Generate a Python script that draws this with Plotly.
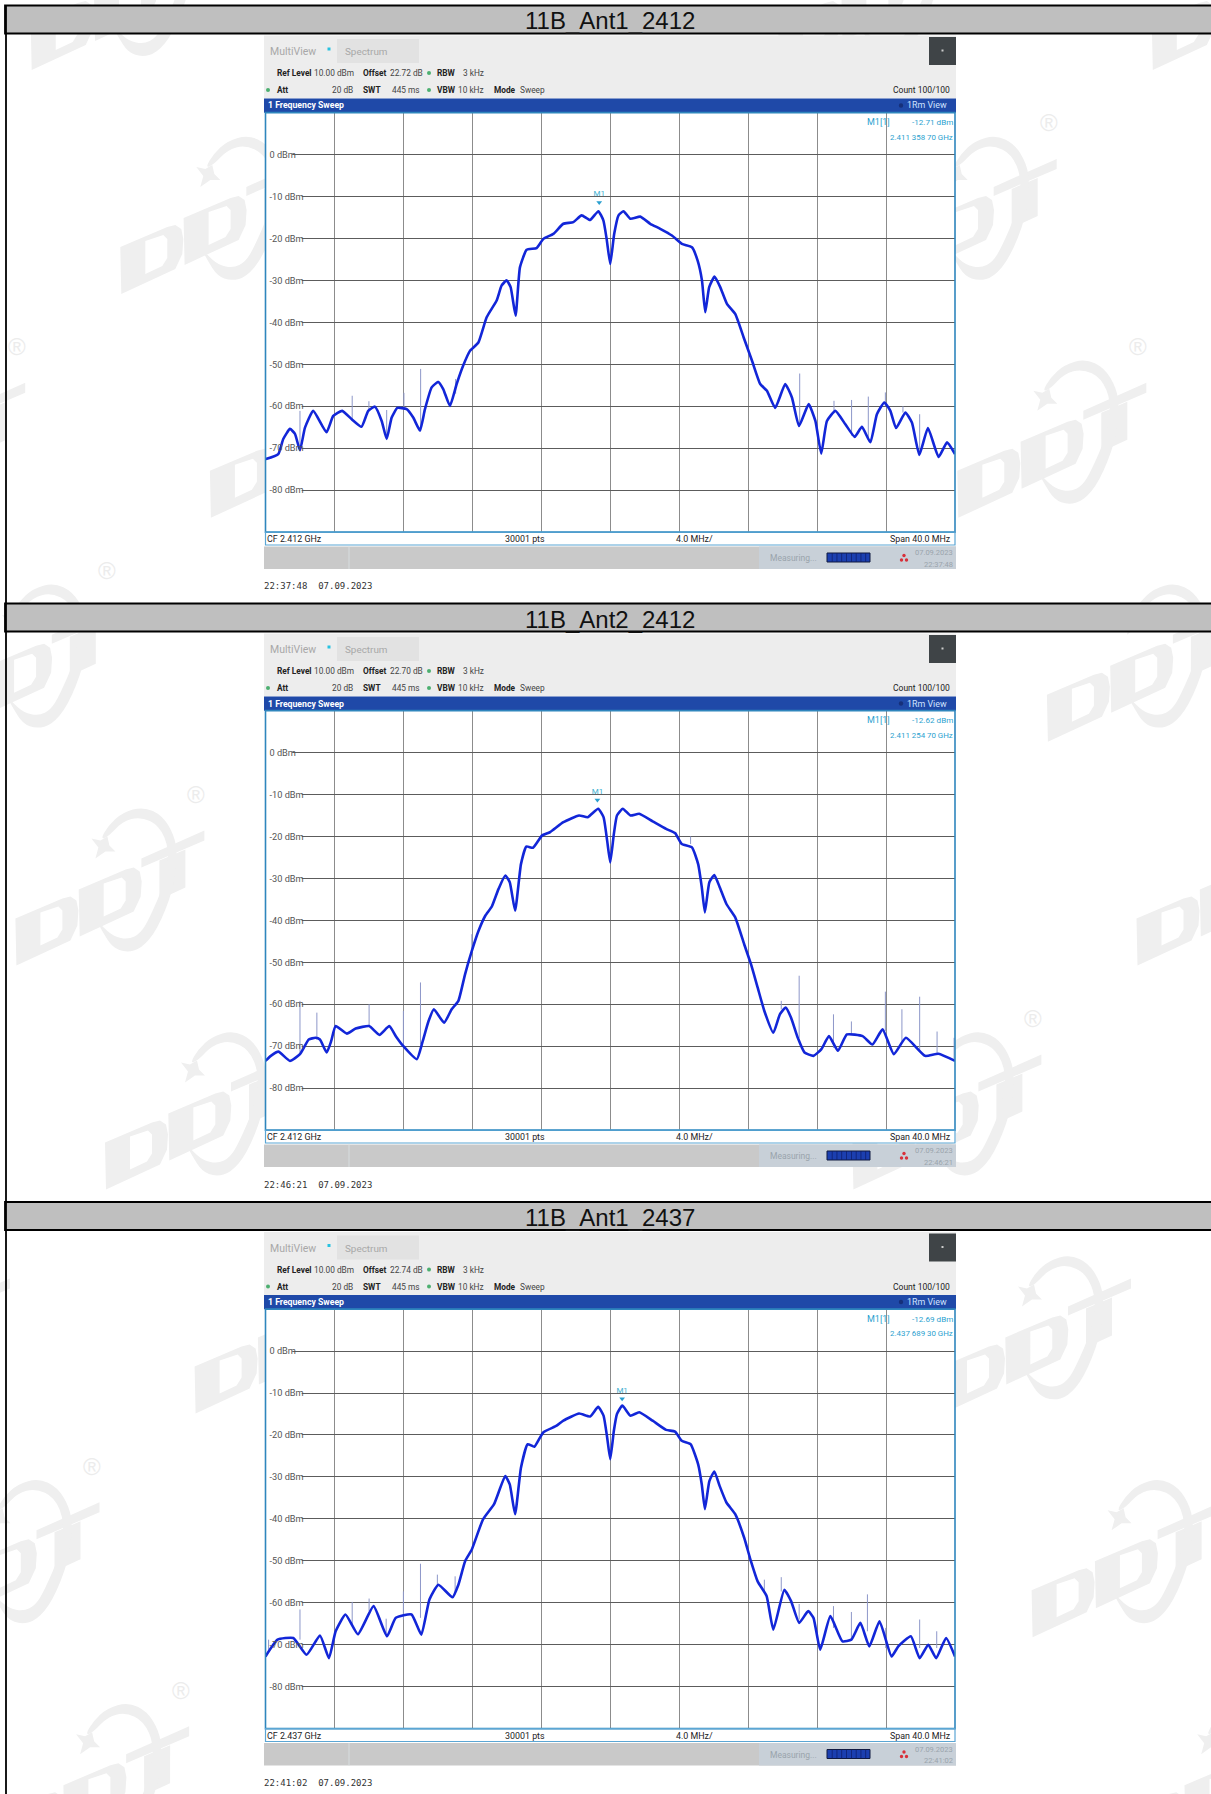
import plotly.graph_objects as go

W, H = 1211, 1794

# ---------- values ----------
TITLES = ["11B_Ant1_2412", "11B_Ant2_2412", "11B_Ant1_2437"]
OFFSETS = ["22.72 dB", "22.70 dB", "22.74 dB"]
CFS = ["CF 2.412 GHz", "CF 2.412 GHz", "CF 2.437 GHz"]
M1_LEVEL = [-12.71, -12.62, -12.69]
M1_FREQ = ["2.411 358 70 GHz", "2.411 254 70 GHz", "2.437 689 30 GHz"]
M1_MHZ = [-0.64, -0.745, 0.689]
TIMES = ["22:37:48", "22:46:21", "22:41:02"]
DATE = "07.09.2023"
Y_TICKS = [0, -10, -20, -30, -40, -50, -60, -70, -80]
Y_LABELS = ["0 dBm", "-10 dBm", "-20 dBm", "-30 dBm", "-40 dBm", "-50 dBm", "-60 dBm", "-70 dBm", "-80 dBm"]

P1_MHZ = [-19.98,-19.26,-18.97,-18.58,-18.29,-18.0,-17.71,-17.23,-16.46,-16.07,-15.55,-15.0,-14.43,-14.04,-13.65,-13.26,-12.97,-12.68,-12.35,-11.81,-11.43,-11.04,-10.75,-10.36,-9.98,-9.69,-9.3,-8.91,-8.53,-8.14,-7.65,-7.17,-6.59,-6.3,-6.01,-5.78,-5.49,-5.24,-4.85,-4.27,-3.88,-3.3,-2.72,-2.14,-1.66,-1.17,-0.69,-0.4,-0.21,0,
          0.23,0.48,0.77,1.16,1.74,2.32,2.9,3.58,4.16,4.74,5.07,5.32,5.51,5.74,6.05,6.38,6.77,7.25,7.74,8.22,8.7,9.09,9.57,10.15,10.54,10.95,11.51,11.9,12.24,12.57,13.06,13.64,14.18,14.6,15.09,15.47,15.9,16.25,16.58,17.12,17.5,17.93,18.43,19.05,19.54,20]
P1_DBM = [-72.6,-71.4,-67.8,-65.4,-66.6,-70.5,-65.1,-61.1,-66.2,-62.3,-61.1,-63.1,-64.9,-61.1,-60.1,-63.5,-67.8,-62.7,-60.4,-60.7,-62.7,-65.8,-60.7,-55.5,-54.2,-55.9,-59.9,-54.7,-50.3,-46.8,-44.8,-38.8,-34.8,-31.2,-30,-31.6,-38.4,-26.9,-22.7,-22.3,-20.1,-18.9,-16.5,-16.1,-14.5,-15.6,-13.5,-15.7,-20.1,-26.1,
          -18.9,-14.5,-13.5,-15.3,-14.8,-16.5,-17.7,-19.3,-21.3,-22.1,-25.3,-30,-37.6,-31.6,-29.1,-31.6,-35.6,-38,-43.6,-49.1,-54.7,-56.3,-60.4,-54.7,-57.9,-64.7,-59.5,-63.5,-71.3,-63.5,-61.1,-64.3,-67.3,-64.9,-68.6,-61.9,-59.1,-61.1,-65.2,-61.5,-63.9,-71.6,-65.2,-72.1,-68.6,-71.4]
P1_SPIKE_MHZ = [-18.0,-14.97,-14.0,-12.97,-11.97,-11.0,-8.97,10.99,12.98,14.0,14.97,15.96,16.98,17.95]
P1_SPIKE_TOP = [-61.1,-57.5,-58.8,-60.9,-56.8,-51.1,-53.5,-52.2,-58.7,-58.5,-57.7,-56.7,-60,-61.9]
P1_SPIKE_BASE = [-70.5,-63.1,-61,-67.8,-60.5,-65.8,-57,-64.5,-61.5,-67,-68,-60,-61.5,-71]

P2_MHZ = [-20,-19.69,-19.25,-18.58,-18.0,-17.49,-17.1,-16.84,-16.45,-16.19,-15.93,-15.28,-14.77,-13.99,-13.39,-12.82,-12.44,-12.0,-11.22,-10.88,-10.54,-10.23,-9.64,-9.2,-8.81,-8.42,-8.03,-7.64,-7.25,-6.87,-6.48,-6.09,-5.83,-5.52,-5.18,-4.87,-4.48,-3.96,-3.5,-2.72,-1.81,-1.3,-0.7,-0.39,-0.18,0,0.21,0.39,0.73,1.17,1.68,2.46,3.24,3.76,4.15,4.74,5.1,5.31,5.49,5.75,6.04,6.35,6.74,7.25,7.77,8.16,8.55,8.94,9.46,9.84,10.18,10.49,10.88,11.27,11.79,12.25,12.69,13.21,13.73,14.64,15.21,15.8,16.45,17.15,18.26,19.04,20]
P2_DBM = [-73.5,-72.3,-71.3,-73.5,-71.9,-68.4,-68,-68.4,-71.5,-68.8,-65.2,-67,-65.8,-65.2,-67.3,-65.2,-67.6,-70,-73.1,-68.8,-64,-61.2,-64.4,-61.2,-59.2,-52.8,-47.3,-42.5,-38.9,-36.7,-32.5,-29.3,-30.9,-37.7,-26.6,-22.4,-22.7,-19.8,-19,-16.6,-15,-15.4,-13.4,-15.4,-21,-26.2,-19.4,-15,-13.4,-15,-14.6,-16.4,-18.2,-19.2,-21.8,-22.6,-26.6,-32.1,-38.1,-30.9,-29.2,-32.1,-36.1,-39.3,-45.7,-50.4,-56,-61.6,-66.8,-62.4,-60.8,-63.2,-68,-71.5,-72.3,-70.7,-67.6,-71.1,-67.2,-67.6,-69.6,-66,-71.9,-68,-72.3,-71.8,-73.5]
P2_SPIKE_MHZ = [-18.0,-17.02,-13.99,-12,-11.01,-8.03,4.66,9.92,10.96,12.95,13.99,15.96,16.92,17.95,18.96,19.95]
P2_SPIKE_TOP = [-59.2,-62,-60,-61.6,-54.8,-43.3,-20,-59.2,-53.2,-62.4,-64.1,-57,-61.2,-58.2,-66.5,-68]
P2_SPIKE_BASE = [-71.9,-68.4,-65.2,-70,-69.6,-47.7,-21.8,-61.2,-68,-70.4,-67.2,-66.4,-68.8,-71.1,-71.9,-73.1]

P3_MHZ = [-20,-19.3,-18.39,-17.62,-16.84,-16.32,-15.93,-15.36,-14.64,-13.73,-12.95,-12.44,-11.53,-10.96,-10.49,-9.97,-9.15,-8.81,-8.42,-8.03,-7.38,-6.74,-6.09,-5.83,-5.52,-5.18,-4.79,-4.4,-3.89,-3.11,-2.72,-1.81,-1.17,-0.7,-0.39,-0.18,0,0.21,0.39,0.7,1.17,1.68,2.46,3.24,3.76,4.15,4.66,5.1,5.31,5.49,5.75,6.04,6.35,6.74,7.25,7.77,8.16,8.55,9.07,9.46,10.1,10.49,10.96,11.48,11.79,12.18,12.77,13.47,13.99,14.51,15.03,15.62,16.32,16.71,17.44,17.95,18.45,18.91,19.48,20]
P3_DBM = [-72.8,-68.8,-68.4,-72.4,-67.8,-73.2,-66.8,-62.8,-67.5,-60.8,-68,-63.6,-62.8,-67.6,-59.2,-55.7,-58.7,-55.7,-50.1,-47.3,-40.1,-36.5,-29.8,-31.8,-38.9,-27.8,-22.2,-22.8,-19.4,-17.8,-16.6,-14.9,-15.6,-13.3,-15.4,-20.6,-25.8,-19,-15,-13,-15.4,-14.6,-16.6,-18.8,-19.2,-21.4,-22.2,-27,-31.8,-37.7,-31,-28.7,-32.2,-36.1,-38.9,-44.5,-50.1,-54.9,-58.4,-66.4,-56.9,-59.6,-64.8,-62,-63.6,-71.2,-63.2,-69.2,-68.8,-64.8,-70.4,-64.4,-72.8,-70.4,-68,-73.2,-70,-73.2,-68.4,-72.8]
P3_SPIKE_MHZ = [-19.82,-18,-14.97,-13.99,-13,-12,-11.01,-10.03,-9,8.94,9.92,10.96,12.95,13.99,14.92,15.98,17.95,18.94]
P3_SPIKE_TOP = [-68.8,-61.6,-59.8,-59,-63.8,-57.3,-50.7,-53.3,-53.7,-54.5,-53.9,-60.3,-60.8,-62.2,-58,-66,-64,-66.8]
P3_SPIKE_BASE = [-71.2,-68.8,-65.2,-62,-67.2,-64,-63.6,-56,-58,-57.3,-57.3,-64,-66,-68.8,-66.8,-70.8,-70.8,-70.8]

SERIES = [(P1_MHZ, P1_DBM, P1_SPIKE_MHZ, P1_SPIKE_TOP, P1_SPIKE_BASE),
          (P2_MHZ, P2_DBM, P2_SPIKE_MHZ, P2_SPIKE_TOP, P2_SPIKE_BASE),
          (P3_MHZ, P3_DBM, P3_SPIKE_MHZ, P3_SPIKE_TOP, P3_SPIKE_BASE)]
for s in SERIES:
    assert len(s[0]) == len(s[1]), (len(s[0]), len(s[1]))
    assert len(s[2]) == len(s[3]) == len(s[4])

# ---------- page geometry ----------
PANEL_DY = [0, 598, 1196.5]
PLOT_L, PLOT_R, PLOT_T, PLOT_B = 265.5, 955, 112.6, 532.1
SCR_L, SCR_R = 264, 956
SANS = "Roboto, Liberation Sans, Arial, sans-serif"
MONO = "DejaVu Sans Mono, monospace"

def px(x): return x / W
def py(y): return 1 - y / H

shapes, annos = [], []

def rect(x0, y0, x1, y1, fill, line=None, lw=0, layer="below"):
    d = dict(type="rect", xref="paper", yref="paper", x0=px(x0), x1=px(x1), y0=py(y0), y1=py(y1),
             fillcolor=fill, layer=layer)
    d["line"] = dict(color=line, width=lw) if line else dict(width=0)
    shapes.append(d)

def txt(x, y, s, size=10, color="#222", anchor="left", bold=False, family=SANS):
    annos.append(dict(x=px(x), y=py(y), xref="paper", yref="paper", text=f"<b>{s}</b>" if bold else s,
                      showarrow=False, xanchor=anchor, yanchor="middle", borderpad=0, borderwidth=0,
                      font=dict(size=size, color=color, family=family)))

def dot(x, y, r, color):
    shapes.append(dict(type="circle", xref="paper", yref="paper", x0=px(x-r), x1=px(x+r), y0=py(y-r), y1=py(y+r),
                       fillcolor=color, line=dict(width=0), layer="below"))

# ---------- faint logo watermark (decoration behind the page) ----------
WM = "#efefef"
D_OUT = [(-1,-47),(46,-67),(54,-69),(60,-65),(62,-55),(61,-40),(54,-25),(0,0)]
D_HOLE = [(24,-53),(42,-59),(46,-55),(46,-36),(41,-28),(24,-20)]
T_BAR = [(125,-107),(188,-135),(188,-125),(125,-98)]
T_STEM = [(143,-105),(169,-116),(169,-78),(143,-66)]
STAR = [(75,-127),(84,-125),(91,-129),(93,-120),(99,-114),(89,-114),(79,-107),(82,-118)]
RING = [(84,-126),(92,-140),(106,-153),(127,-159),(146,-150),(158,-130),(161,-110),(157,-76),(141,-36),(125,-17),(110,-13),(96,-18),(86,-34),(79,-47),
        (85,-40),(97,-29),(112,-26),(124,-32),(133,-47),(149,-84),(153,-116),(143,-140),(124,-149),(106,-144),(92,-129)]

def poly(points, ox, oy, dx=0, dy=0):
    return "M " + " L ".join(f"{px(ox+a+dx):.5f} {py(oy+b+dy):.5f}" for a, b in points) + " Z"

def smooth(points, ox, oy):
    """Closed outline rounded with quadratic segments through edge midpoints."""
    pts = [(px(ox + a), py(oy + b)) for a, b in points]
    n = len(pts)
    mid = [((pts[j][0] + pts[(j + 1) % n][0]) / 2, (pts[j][1] + pts[(j + 1) % n][1]) / 2) for j in range(n)]
    path = f"M {mid[-1][0]:.5f} {mid[-1][1]:.5f}"
    for j in range(n):
        path += f" Q {pts[j][0]:.5f} {pts[j][1]:.5f} {mid[j][0]:.5f} {mid[j][1]:.5f}"
    return path + " Z"

def logo(ox, oy):
    dd = "".join(poly(p, ox, oy, dx, dy) for dx, dy in ((0, 0), (63.3, -29)) for p in (D_OUT, D_HOLE))
    shapes.append(dict(type="path", xref="paper", yref="paper", path=dd, fillcolor=WM, fillrule="evenodd",
                       line=dict(width=0), layer="below"))
    for p in (T_BAR, T_STEM, STAR):
        shapes.append(dict(type="path", xref="paper", yref="paper", path=poly(p, ox, oy), fillcolor=WM,
                           line=dict(width=0), layer="below"))
    shapes.append(dict(type="path", xref="paper", yref="paper", path=smooth(RING, ox, oy), fillcolor=WM,
                       line=dict(width=0), layer="below"))

for r in range(-1, 9):
    oy = 70 + 223.9 * r
    for k in range(-3, 5):
        ox = 31.7 + 89.6 * r + 373.7 * k
        if ox + 190 < 0 or ox > W or oy - 160 > H or oy < 0:
            continue
        if ox > SCR_L and ox + 190 < SCR_R:
            continue   # wholly behind an instrument window
        logo(ox, oy)
        rx, ry = ox + 180, oy - 171
        if not (SCR_L - 14 < rx < SCR_R + 14) and 40 < ry < H - 12 and 12 < rx < W - 12 \
                and not any(abs(ry - (20 + d)) < 26 for d in PANEL_DY):
            txt(rx, ry, "®", size=24, color="#ececec", anchor="center", family="Liberation Sans, Arial")

# ---------- figure ----------
fig = go.Figure()
axis_layout = {}

for i, (xs, ys, sx, st, sb) in enumerate(SERIES):
    dy = PANEL_DY[i]
    n = "" if i == 0 else str(i + 1)

    # header band of the table row
    rect(5, 5.5 + dy, W + 4, 33.5 + dy, "#bfbfbf", "#000000", 1.8)
    txt(610, 21 + dy, TITLES[i], size=24, color="#111", anchor="center", family="Liberation Sans, Arial")

    # instrument window
    rect(SCR_L, 35.5 + dy, SCR_R, 98.5 + dy, "#ededed")
    rect(929, 37 + dy, SCR_R, 65 + dy, "#3f4447")
    rect(941.5, 49.5 + dy, 943.5, 51.5 + dy, "#cccccc")
    rect(337, 39 + dy, 419, 63 + dy, "#e2e2e2")
    txt(270, 51.5 + dy, "MultiView", size=10.5, color="#a8a8a8")
    rect(327.5, 47.5 + dy, 330.5, 50.5 + dy, "#27c2e0")
    txt(345, 51.5 + dy, "Spectrum", size=9.9, color="#a8a8a8")

    S = 8.3
    txt(276.5, 73 + dy, "Ref Level", bold=True, size=S)
    txt(313.5, 73 + dy, "10.00 dBm", size=S, color="#444")
    txt(363, 73 + dy, "Offset", bold=True, size=S)
    txt(390, 73 + dy, OFFSETS[i], size=S, color="#444")
    dot(429, 73 + dy, 2, "#4caf70")
    txt(436.5, 73 + dy, "RBW", bold=True, size=S)
    txt(463, 73 + dy, "3 kHz", size=S, color="#444")

    dot(268, 90 + dy, 2, "#4caf70")
    txt(276.5, 90 + dy, "Att", bold=True, size=S)
    txt(331.5, 90 + dy, "20 dB", size=S, color="#444")
    txt(363, 90 + dy, "SWT", bold=True, size=S)
    txt(392, 90 + dy, "445 ms", size=S, color="#444")
    dot(429, 90 + dy, 2, "#4caf70")
    txt(436.5, 90 + dy, "VBW", bold=True, size=S)
    txt(458, 90 + dy, "10 kHz", size=S, color="#444")
    txt(494, 90 + dy, "Mode", bold=True, size=S)
    txt(520, 90 + dy, "Sweep", size=S, color="#444")
    txt(950, 90 + dy, "Count 100/100", size=8.5, color="#222", anchor="right")

    rect(SCR_L, 98.5 + dy, SCR_R, 112.8 + dy, "#1f49a8")
    txt(267.5, 105.5 + dy, "1 Frequency Sweep", size=8.7, color="#ffffff", bold=True)
    dot(901, 105.5 + dy, 2.2, "#16307a")
    txt(947, 105.5 + dy, "1Rm View", size=8.9, color="#cfe2ff", anchor="right")

    rect(PLOT_L, PLOT_T + dy, PLOT_R, PLOT_B + dy, "#ffffff")
    rect(SCR_L, PLOT_B + dy, SCR_R, 545 + dy, "#ffffff")
    rect(SCR_L, 546.5 + dy, SCR_R, 569 + dy, "#c9c9c9")
    rect(759, 546.5 + dy, SCR_R, 569 + dy, "#c8d0d8")
    rect(348.5, 546.5 + dy, 349.5, 569 + dy, "#d8dee0")
    txt(770, 558 + dy, "Measuring...", size=8.5, color="#9aa4ac")
    rect(827, 553 + dy, 870, 562 + dy, "#1b3fb0", "#101a40", 1)
    for b in range(1, 9):
        rect(827 + b * 4.8, 553 + dy, 827.7 + b * 4.8, 562 + dy, "#0e1c66")
    for cx, cy in ((904, 555.5), (901.5, 560), (906.5, 560)):
        dot(cx, cy + dy, 1.7, "#d8303a")
    txt(953, 552.5 + dy, DATE, size=7.5, color="#9aa4ac", anchor="right")
    txt(953, 564 + dy, TIMES[i], size=7.5, color="#9aa4ac", anchor="right")

    txt(267, 539 + dy, CFS[i], size=8.9, color="#222")
    txt(505, 539 + dy, "30001 pts", size=8.9, color="#222")
    txt(676, 539 + dy, "4.0 MHz/", size=8.9, color="#222")
    txt(951, 539 + dy, "Span 40.0 MHz", size=8.9, color="#222", anchor="right")
    txt(264, 586.5 + dy, f"{TIMES[i]}  {DATE}", size=9, color="#333", family=MONO)

    # marker read-out
    txt(867, 122 + dy, "M1[1]", size=9, color="#2a9fcf")
    txt(953, 122 + dy, f"{M1_LEVEL[i]:.2f} dBm", size=8.1, color="#2a9fcf", anchor="right")
    txt(953, 137 + dy, M1_FREQ[i], size=7.9, color="#2a9fcf", anchor="right")

    # axes
    xa, ya = f"xaxis{n}", f"yaxis{n}"
    axis_layout[xa] = dict(domain=[px(PLOT_L), px(PLOT_R)], range=[-20, 20], tick0=-20, dtick=4,
                           showticklabels=False, showgrid=True, gridcolor="#8c8c8c", gridwidth=1,
                           zeroline=False, showline=False, ticks="", anchor=f"y{n}", fixedrange=True)
    axis_layout[ya] = dict(domain=[py(PLOT_B + dy), py(PLOT_T + dy)], range=[-90, 10],
                           tickvals=Y_TICKS, ticktext=Y_LABELS, ticklabelposition="inside",
                           ticklabelstandoff=1, tickfont=dict(size=9.2, color="#555", family=SANS),
                           showgrid=True, gridcolor="#5c5c5c", gridwidth=1.2,
                           zeroline=False, showline=False, ticks="", anchor=f"x{n}", fixedrange=True)

    # gaps in the horizontal rules behind the level labels
    for t, lab in zip(Y_TICKS, Y_LABELS):
        shapes.append(dict(type="rect", xref=f"x{n}", yref=f"y{n}", x0=-20, x1=-18.45 if t == 0 else -17.9,
                           y0=t - 0.6, y1=t + 0.6, fillcolor="#ffffff", line=dict(width=0), layer="between"))

    # spurs
    spx, spy = [], []
    for a, t, b in zip(sx, st, sb):
        spx += [a, a, None]
        spy += [b, t, None]
    fig.add_trace(go.Scatter(x=spx, y=spy, mode="lines", line=dict(color="#8d97c9", width=1),
                             xaxis=f"x{n}", yaxis=f"y{n}", hoverinfo="skip", showlegend=False))
    # spectrum
    fig.add_trace(go.Scatter(x=xs, y=ys, mode="lines",
                             line=dict(color="#1226d8", width=2.6, shape="spline", smoothing=0.45),
                             xaxis=f"x{n}", yaxis=f"y{n}", hoverinfo="skip", showlegend=False))
    # M1 marker
    fig.add_trace(go.Scatter(x=[M1_MHZ[i]], y=[M1_LEVEL[i] + 1.3], mode="markers+text", text=["M1"],
                             textposition="top center", textfont=dict(size=8, color="#39aecf", family=SANS),
                             marker=dict(symbol="triangle-down", size=5, color="#2a9fcf"),
                             xaxis=f"x{n}", yaxis=f"y{n}", hoverinfo="skip", showlegend=False))

    # blue window frame
    rect(PLOT_L, PLOT_T + dy, PLOT_R, PLOT_B + dy, "rgba(0,0,0,0)", "#2f86bd", 1.6, layer="above")
    rect(PLOT_L, PLOT_B + dy, PLOT_R, 545 + dy, "rgba(0,0,0,0)", "#5ba6d4", 1.2, layer="above")

# table rule at the left of the page
shapes.append(dict(type="line", xref="paper", yref="paper", x0=px(6), x1=px(6), y0=0, y1=py(5.5),
                   line=dict(color="#000000", width=1.8), layer="above"))

fig.update_layout(width=W, height=H, margin=dict(l=0, r=0, t=0, b=0, pad=0), paper_bgcolor="#ffffff",
                  plot_bgcolor="rgba(0,0,0,0)", showlegend=False, shapes=shapes, annotations=annos, **axis_layout)

fig.write_html("out.html", config=dict(displayModeBar=False),
               post_script="document.body.style.margin='0';document.body.style.overflow='hidden';")
